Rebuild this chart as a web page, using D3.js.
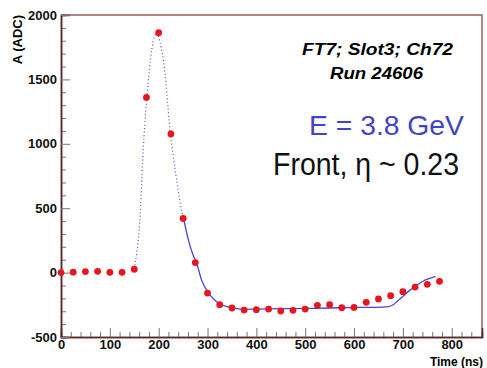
<!DOCTYPE html>
<html><head><meta charset="utf-8">
<script src="https://cdn.jsdelivr.net/npm/d3@7"></script>
<style>body{margin:0;background:#fff}svg{display:block}</style>
</head><body>
<svg id="c" width="487" height="368"></svg>
<script>
// Sample times (ns) and measured amplitudes (ADC)
const sampleTimes = [0,25,50,75,100,125,150,175,200,225,250,275,300,325,350,375,400,425,450,475,500,525,550,575,600,625,650,675,700,725,750,775];
const sampleValues = [0,3,8,10,2,2,26,1360,1862,1077,420,78,-159,-249,-275,-291,-288,-283,-298,-293,-283,-254,-249,-272,-270,-231,-205,-179,-148,-112,-91,-68];
// Fit curve, dotted section (outside fit range)
const fitDotTimes = [150,155,160,164,167,170,176,183,189,193,196,200,205,210,217,223,230,237,245,251];
const fitDotValues = [30,150,330,590,850,1060,1365,1650,1800,1845,1862,1830,1750,1640,1380,1110,900,717,520,420];
// Fit curve, solid section
const fitTimes = [251,261,270,277,288,302,315,327,340,353,378,400,450,500,550,612,660,670,680,687,700,714,728,742,755,767];
const fitValues = [420,251,140,82,-60,-158,-215,-246,-265,-275,-285,-283,-280,-278,-275,-270,-268,-265,-250,-228,-185,-138,-100,-65,-45,-29];
const xTicks = [0,100,200,300,400,500,600,700,800];
const yTicks = [-500,0,500,1000,1500,2000];

const svg = d3.select('#c');
const x = d3.scaleLinear().domain([0,862]).range([61,482]);
const y = d3.scaleLinear().domain([-500,2000]).range([337,15]);
const font = '"Liberation Sans", Arial, Helvetica, sans-serif';

// frame top/right
svg.append('path').attr('d',`M${x(0)},${y(2000)}H${x(862)}V${y(-500)}`)
  .attr('fill','none').attr('stroke','#9a5a5a').attr('stroke-width',1.5);

// minor ticks
const xMinor = d3.range(0,862,20).filter(v=>v%100!==0);
const yMinor = d3.range(-500,2000,100).filter(v=>v%500!==0);
const gx = svg.append('g').attr('transform',`translate(0,${y(-500)})`);
gx.call(d3.axisBottom(x).tickValues(xMinor).tickSize(-5).tickFormat(''));
const gx2 = svg.append('g').attr('transform',`translate(0,${y(-500)})`);
gx2.call(d3.axisBottom(x).tickValues(xTicks).tickSize(-9).tickFormat(d3.format('d')));
const gy = svg.append('g').attr('transform',`translate(${x(0)},0)`);
gy.call(d3.axisLeft(y).tickValues(yMinor).tickSize(-5).tickFormat(''));
const gy2 = svg.append('g').attr('transform',`translate(${x(0)},0)`);
gy2.call(d3.axisLeft(y).tickValues(yTicks).tickSize(-9).tickPadding(4).tickFormat(d=>d<0?'-'+Math.abs(d):d));
[gx,gx2,gy,gy2].forEach(g=>{
  g.select('.domain').attr('stroke','#5a2a2a').attr('stroke-width',1.5);
  g.selectAll('.tick line').attr('stroke','#777').attr('stroke-width',1);
  g.selectAll('text').attr('font-family',font).attr('font-weight','bold').attr('font-size',13).attr('fill','#111');
});
gx2.selectAll('text').attr('y',3).attr('dy','0.71em');

// fit curves
const line = d3.line().x(d=>x(d[0])).y(d=>y(d[1])).curve(d3.curveMonotoneX);
svg.append('path').datum(fitDotTimes.map((t,i)=>[t,fitDotValues[i]]))
  .attr('d',line).attr('fill','none').attr('stroke','#5050d0').attr('stroke-width',1.2).attr('stroke-dasharray','1,2.5');
svg.append('path').datum(fitTimes.map((t,i)=>[t,fitValues[i]]))
  .attr('d',line).attr('fill','none').attr('stroke','#4848d8').attr('stroke-width',1.3);

// samples
svg.append('g').selectAll('circle').data(sampleTimes.map((t,i)=>[t,sampleValues[i]])).join('circle')
  .attr('cx',d=>x(d[0])).attr('cy',d=>y(d[1])).attr('r',3.4).attr('fill','#e8141e');

// labels
svg.append('text').attr('transform','translate(22,15) rotate(-90)').attr('text-anchor','end')
  .attr('font-family',font).attr('font-weight','bold').attr('font-size',13).text('A (ADC)');
svg.append('text').attr('x',483).attr('y',366).attr('text-anchor','end')
  .attr('font-family',font).attr('font-weight','bold').attr('font-size',12).text('Time (ns)');
svg.append('text').attr('x',302).attr('y',55).attr('textLength',151).attr('lengthAdjust','spacingAndGlyphs')
  .attr('font-family',font).attr('font-weight','bold').attr('font-style','italic').attr('font-size',16).text('FT7; Slot3; Ch72');
svg.append('text').attr('x',330).attr('y',79).attr('textLength',93).attr('lengthAdjust','spacingAndGlyphs')
  .attr('font-family',font).attr('font-weight','bold').attr('font-style','italic').attr('font-size',16).text('Run 24606');
svg.append('text').attr('x',309).attr('y',135).attr('textLength',155).attr('lengthAdjust','spacingAndGlyphs')
  .attr('font-family',font).attr('font-size',28).attr('fill','#4444c4').text('E = 3.8 GeV');
svg.append('text').attr('x',273).attr('y',175).attr('textLength',186).attr('lengthAdjust','spacingAndGlyphs')
  .attr('font-family',font).attr('font-size',31).attr('fill','#111').text('Front, η ~ 0.23');
</script>
</body></html>
